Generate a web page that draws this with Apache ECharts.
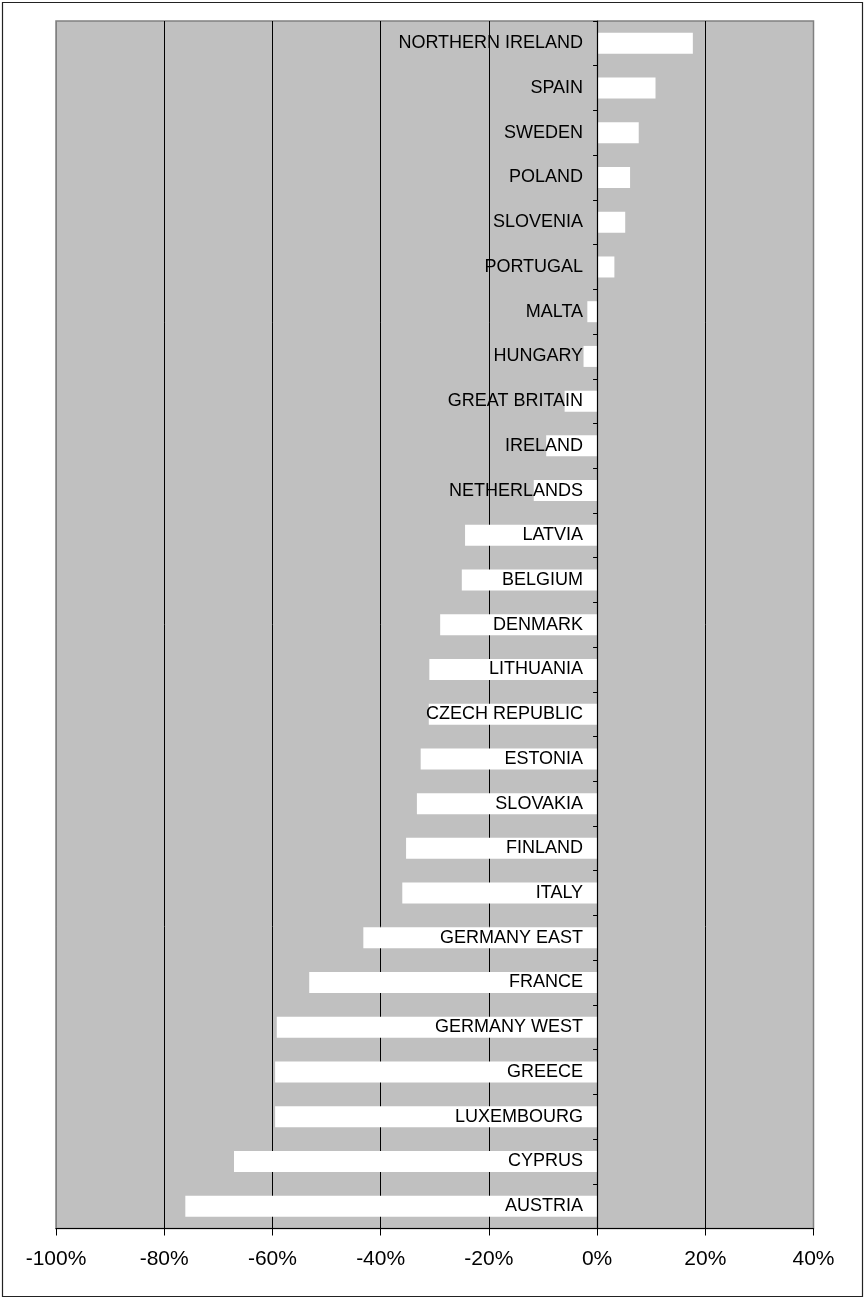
<!DOCTYPE html>
<html>
<head>
<meta charset="utf-8">
<script src="https://cdn.jsdelivr.net/npm/echarts@6/dist/echarts.min.js"></script>
<style>
html,body{margin:0;padding:0;background:#fff;}
#chart{width:865px;height:1300px;}
</style>
</head>
<body>
<div id="chart"></div>
<script>
const countries = ['NORTHERN IRELAND','SPAIN','SWEDEN','POLAND','SLOVENIA','PORTUGAL','MALTA','HUNGARY','GREAT BRITAIN','IRELAND','NETHERLANDS','LATVIA','BELGIUM','DENMARK','LITHUANIA','CZECH REPUBLIC','ESTONIA','SLOVAKIA','FINLAND','ITALY','GERMANY EAST','FRANCE','GERMANY WEST','GREECE','LUXEMBOURG','CYPRUS','AUSTRIA'];
const changePct = [17.7,10.8,7.7,6.1,5.2,3.2,-1.8,-2.5,-6.0,-9.4,-11.7,-24.4,-25.0,-29.0,-31.0,-31.1,-32.6,-33.3,-35.3,-36.0,-43.2,-53.2,-59.2,-59.5,-59.5,-67.1,-76.1];
const xTicks = [-100,-80,-60,-40,-20,0,20,40];

const W = 865, H = 1300;
const gridLeft = 56, gridRight = 51.5;
const gridW = W - gridLeft - gridRight;
const xMin = xTicks[0], xMax = xTicks[xTicks.length-1];
// shift the category axis so that it sits on the value 0
const zeroOffset = -((0 - xMin) / (xMax - xMin)) * gridW;

const chart = echarts.init(document.getElementById('chart'), null, {renderer:'canvas'});
const font = 'Liberation Sans, Arial, sans-serif';
chart.setOption({
  animation:false,
  backgroundColor:'#ffffff',
  graphic:[{type:'rect',shape:{x:2.5,y:2.5,width:860,height:1294},style:{fill:'none',stroke:'#222',lineWidth:1.2},z:100}],
  grid:{left:gridLeft,right:gridRight,top:21,bottom:71.5,containLabel:false,outerBoundsMode:'none',show:true,backgroundColor:'#c0c0c0',borderColor:'#808080',borderWidth:1.5},
  xAxis:{
    type:'value',min:xMin,max:xMax,interval:20,
    axisLine:{show:true,onZero:false,lineStyle:{color:'#000',width:1.2}},
    axisTick:{show:true,length:7,lineStyle:{color:'#000'}},
    axisLabel:{formatter:v=>v+'%',fontSize:21,color:'#000',fontFamily:font,margin:20,hideOverlap:false},
    splitLine:{show:true,lineStyle:{color:['#808080','#000','#000','#000','#000','#000','#000','#808080'],width:1}}
  },
  yAxis:{
    type:'category',data:countries,inverse:true,z:10,offset:zeroOffset,
    axisLine:{show:true,onZero:false,lineStyle:{color:'#000',width:1.2}},
    axisTick:{show:true,length:4,lineStyle:{color:'#000'}},
    axisLabel:{fontSize:18,color:'#000',fontFamily:font,margin:14,interval:0,hideOverlap:false},
    splitLine:{show:false}
  },
  series:[{type:'bar',data:changePct,barWidth:21,itemStyle:{color:'#ffffff'},z:2}]
});
</script>
</body>
</html>
